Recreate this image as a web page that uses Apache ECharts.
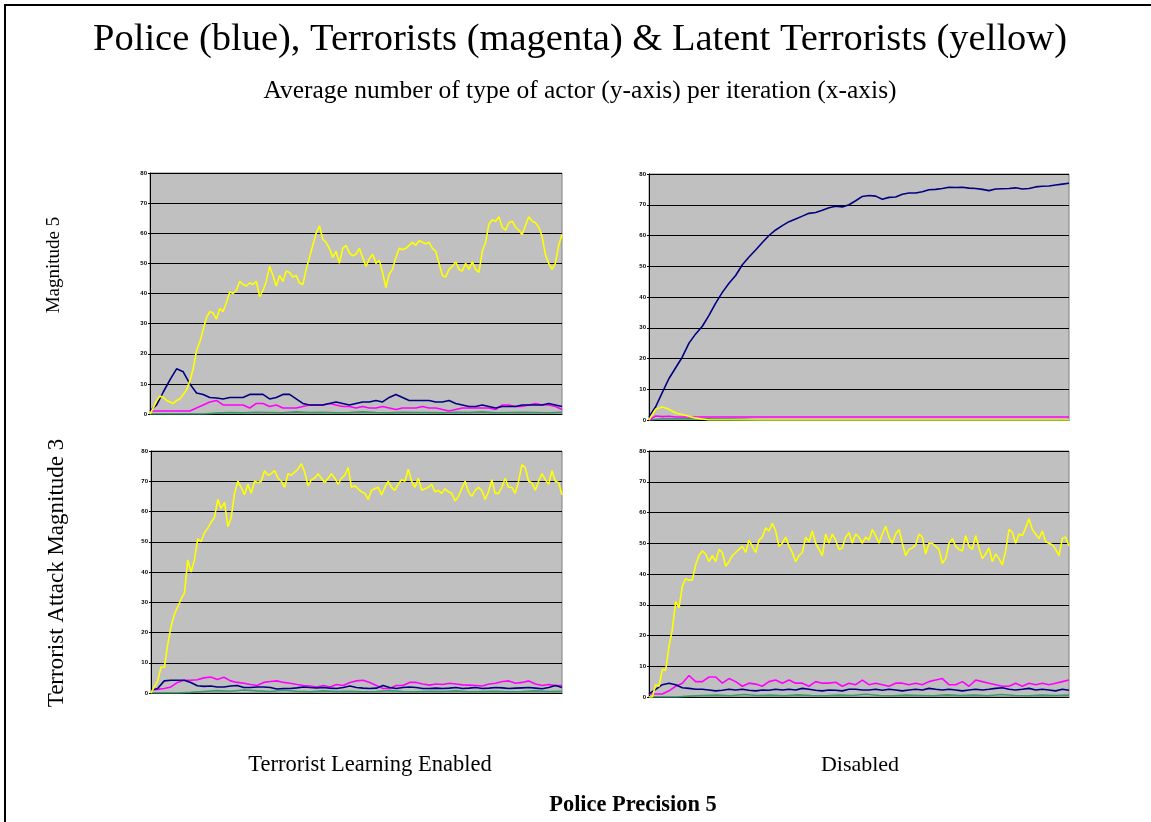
<!DOCTYPE html>
<html>
<head>
<meta charset="utf-8">
<script src="https://cdn.jsdelivr.net/npm/echarts@6/dist/echarts.min.js"></script>
<style>
  html, body { margin: 0; padding: 0; background: #ffffff; }
  #chart { width: 1151px; height: 822px; }
</style>
</head>
<body>
<div id="chart"></div>
<script>
// Average number of each actor type per iteration, four simulation settings.
// Each series is sampled evenly over the run (iteration 0..1000).

// Y axis tick labels shared by all panels
const yTicks = [0, 10, 20, 30, 40, 50, 60, 70, 80];

// Terrorist learning enabled, magnitude 5
const policeLearnMag5 = [1, 3, 7.3, 11.3, 15, 14, 10, 7, 6.5, 5.5, 5.3, 5, 5.5, 5.5, 5.5, 6.5, 6.5, 6.5, 5, 5.5, 6.5, 6.5, 5, 3.5, 3, 3, 3, 3.5, 4, 3.5, 3, 3.5, 4, 4, 4.5, 4, 5.5, 6.5, 5.5, 4.5, 4.5, 4.5, 4.5, 4, 4, 4.5, 3.5, 3, 2.5, 2.5, 3, 2.5, 2, 2.5, 2.5, 2.5, 3, 3, 3, 3, 3.5, 3, 2.5];
const terrorLearnMag5 = [1, 1, 1, 1, 1, 1, 1, 2, 3, 4, 4.5, 3, 3, 3, 3, 2, 3.5, 3.5, 2.5, 3, 2, 2, 2, 2.5, 3, 3, 3, 3.5, 3, 2.5, 2.5, 2, 2.5, 2, 2, 2.5, 2, 1.5, 2, 2, 2, 2.5, 2, 2, 1.5, 1, 1.5, 2, 2, 2, 2, 2, 1.5, 3, 3, 2.5, 2.5, 3, 3.5, 3, 3, 2.5, 1.5];
const latentLearnMag5 = [0, 2, 4.5, 6, 5.5, 4.5, 4, 3.5, 4.5, 5, 6.5, 8, 11, 15, 21, 24, 28, 32, 34, 33.5, 31.5, 35, 34, 37, 40.5, 40, 41, 44, 43, 42.5, 43.5, 43, 44, 39, 41, 44, 49, 46, 42.5, 46, 44, 47.5, 47, 45.5, 46, 43.5, 43, 48, 52, 56, 60, 62.5, 58, 57, 55, 52, 54, 50, 55, 56, 53.5, 52.5, 53, 55, 52, 49, 51.5, 53, 50, 51, 47, 42, 46.5, 48, 52, 55, 54.5, 55, 56, 57, 56, 57.5, 57, 56.5, 57, 55, 54, 50, 46, 45.5, 48, 49, 50.5, 48, 47.5, 50, 48, 50.5, 48, 47, 54, 57, 63, 64.5, 64, 65.5, 62, 61, 63.5, 64, 62, 61, 59.5, 62.5, 65.5, 64, 63.5, 62, 59, 53, 50, 48, 50, 56, 59.5];
const otherLearnMag5 = [0, 0, 0, 0, 0, 0.3, 0.5, 0.4, 0.6, 0.5, 0.4, 0.7, 0.5, 0.6, 0.4, 0.5, 0.7, 0.5, 0.4, 0.6, 0.5, 0.5, 0.4, 0.6, 0.5, 0.7, 0.4, 0.5, 0.6, 0.5, 0.4, 0.6];

// Terrorist learning disabled, magnitude 5
const policeNoLearnMag5 = [1, 4.3, 9, 13.5, 17, 20.5, 25, 28, 30.5, 34, 38, 41.5, 44.5, 47, 50.5, 53, 55.3, 57.7, 60, 61.8, 63.2, 64.5, 65.4, 66.3, 67.2, 67.5, 68.2, 69, 69.5, 69.3, 70, 71.3, 72.7, 73, 72.8, 71.8, 72.4, 72.5, 73.4, 73.8, 73.8, 74.2, 74.9, 75, 75.3, 75.7, 75.6, 75.7, 75.4, 75.3, 75, 74.6, 75.1, 75.2, 75.3, 75.5, 75.1, 75.3, 75.8, 76, 76.1, 76.4, 76.7, 77];
const terrorNoLearnMag5 = [0, 1.3, 1.1, 1.2, 1, 1, 1, 1, 1, 1, 1, 1, 1, 1, 1, 1, 1, 1, 1, 1, 1, 1, 1, 1, 1, 1, 1, 1, 1, 1, 1, 1, 1, 1, 1, 1, 1, 1, 1, 1, 1, 1, 1, 1, 1, 1, 1, 1, 1, 1, 1, 1, 1, 1, 1, 1, 1, 1, 1, 1, 1, 1, 1, 1];
const latentNoLearnMag5 = [0, 3.5, 4.2, 3.5, 2.3, 1.8, 1.2, 0.6, 0.3, 0, 0, 0, 0, 0, 0, 0, 0, 0, 0, 0, 0, 0, 0, 0, 0, 0, 0, 0, 0, 0, 0, 0, 0, 0, 0, 0, 0, 0, 0, 0, 0, 0, 0, 0, 0, 0, 0, 0, 0, 0, 0, 0, 0, 0, 0, 0, 0, 0, 0, 0, 0, 0, 0, 0];
const otherNoLearnMag5 = [0, 0.4, 0.4, 0.4, 0.4, 0.3, 0.3, 0.2, 0, 0, 0, 0, 0, 0, 0, 0, 0, 0, 0, 0, 0, 0, 0, 0, 0, 0, 0, 0, 0, 0, 0, 0];

// Terrorist learning enabled, magnitude 3
const policeLearnMag3 = [1, 1.5, 4, 4.2, 4.2, 4.2, 3.5, 2.4, 2.2, 2.3, 2, 2, 2.3, 2.5, 1.8, 1.8, 2, 2, 1.8, 1.3, 1.5, 1.5, 1.7, 2, 1.8, 1.7, 1.8, 1.6, 1.5, 1.8, 2.3, 1.8, 1.6, 1.5, 1.6, 2.5, 1.8, 1.5, 1.8, 2, 1.8, 1.5, 1.5, 1.6, 1.5, 1.6, 1.8, 1.5, 1.6, 1.8, 1.5, 1.6, 1.8, 1.7, 1.5, 1.6, 1.7, 1.8, 1.6, 1.4, 1.8, 2.5, 1.8];
const terrorLearnMag3 = [1, 1.2, 1.5, 2, 3.5, 4.2, 4.2, 4.4, 5, 5.3, 4.5, 5.2, 4, 3.5, 3.2, 2.8, 2.5, 3.5, 3.8, 4, 3.5, 3.2, 2.8, 2.5, 2.3, 2, 2.5, 2, 2.8, 2.5, 3.5, 4, 4.2, 3.5, 2.5, 1.5, 1.5, 2.5, 2.5, 3.5, 3.5, 3, 2.6, 3, 2.8, 3.2, 3, 2.7, 2.6, 2.5, 2.3, 3, 3.2, 3.8, 4, 3.2, 3.5, 4, 3, 2.5, 2.8, 2.5, 2.5];
const latentLearnMag3 = [0, 2, 4, 8.5, 8.5, 16, 22, 26, 28.5, 31, 33, 44, 40, 44, 51, 50, 53, 54.5, 56.5, 58, 64, 61, 63, 55, 58, 66, 70, 68, 65.5, 69, 66, 70, 69.5, 70, 73.5, 72, 72.5, 73.5, 71, 70, 68, 72.5, 72, 73, 74, 75.8, 73, 68.5, 70.5, 71, 72.5, 71, 69.5, 71, 72.5, 71, 69, 71, 72, 74.5, 68, 68.5, 67.5, 66.5, 66, 64, 67, 67.5, 68, 65.5, 68, 70, 68, 67, 69, 70.5, 70, 74, 70, 68, 71, 67, 67.5, 68, 69, 66.5, 67, 66, 67.5, 66.5, 66, 63.5, 65, 67.5, 70, 66.5, 65, 67, 68, 67, 64, 66.5, 70.5, 66, 66, 68, 71, 68, 68, 66, 70, 75.5, 74.5, 70, 69.5, 67, 70, 72.5, 70.5, 69, 73.5, 70, 69.5, 65.5];
const otherLearnMag3 = [0, 0, 0, 0.2, 0.5, 0.8, 0.6, 1, 0.7, 0.5, 0.9, 0.6, 0.4, 0.7, 0.5, 0.6, 0.4, 0.5, 0.8, 0.5, 0.4, 0.6, 0.5, 0.7, 0.4, 0.5, 0.6, 0.4, 0.5, 0.7, 0.5, 0.6];

// Terrorist learning disabled, magnitude 3
const policeNoLearnMag3 = [1, 2.5, 4, 4.5, 4, 3, 2.8, 2.5, 2.5, 2.3, 2, 2.2, 2.5, 2.3, 2.5, 2.2, 2, 2.3, 2.2, 2.5, 2.3, 2.5, 2.3, 2.8, 2.5, 2.2, 2, 2.3, 2.2, 2, 2.5, 2.5, 2.3, 2.3, 2.5, 2.2, 2.5, 2.3, 2, 2.3, 2.5, 2.3, 2.8, 2.5, 2.3, 2.5, 2.3, 2, 2.3, 2.5, 2.3, 2.5, 2.8, 3, 2.5, 2.3, 2.5, 2.8, 2.3, 2.5, 2.3, 2, 2.5, 2.2];
const terrorNoLearnMag3 = [1, 1, 1, 2, 3.5, 4.5, 7, 5, 5, 6.5, 6.5, 4.5, 6, 5, 3.5, 4.5, 4.2, 3.5, 5, 5.5, 4.5, 5.5, 4.5, 4.5, 3.5, 5, 4.5, 4.5, 4.8, 3.5, 4.5, 4, 5.5, 4, 4.5, 4, 3.5, 4.5, 4.5, 4, 4.5, 4, 5, 5.5, 6, 4, 4, 5, 3.5, 5.5, 5, 4.5, 4, 3.5, 3.5, 4.5, 3.5, 4.5, 4, 4.5, 4, 4.5, 5, 5.5];
const latentNoLearnMag3 = [0, 0, 4, 3.5, 9, 8.7, 16.5, 22, 31, 29, 36, 38.5, 38, 38, 43, 46, 47.5, 46.5, 44, 46, 44, 48, 47, 42.5, 44, 46, 47, 48, 49, 47, 51, 49, 47, 51, 52, 55, 54, 56.5, 54, 49, 50, 52, 49, 47, 44, 46, 47, 52, 50.5, 54, 50, 48, 46, 53, 50, 53, 51, 48, 48.5, 52, 53.5, 50, 53, 52, 50, 52, 51, 54.5, 52.5, 50, 53, 55.5, 52, 50, 53, 54.5, 50, 46, 48, 48.5, 49.5, 53, 52, 46.5, 50, 50, 49, 48, 43.5, 45, 50, 51.5, 49, 48, 47.5, 52.5, 49, 48, 52.5, 48.5, 45, 46.5, 48.5, 44, 46.5, 45, 43, 47.5, 54.5, 53.5, 50, 53, 52.5, 55, 58, 54.5, 53, 51.5, 54, 50.5, 50, 49.5, 48, 46, 51.5, 52, 49];
const otherNoLearnMag3 = [0, 0, 0, 0.3, 0.5, 0.6, 0.4, 0.8, 0.5, 0.6, 0.4, 0.7, 0.5, 0.4, 0.6, 0.5, 0.9, 0.5, 0.4, 0.6, 0.5, 0.4, 0.7, 0.5, 0.6, 0.4, 0.8, 0.5, 0.4, 0.6, 0.5, 0.6];

const COLORS = {
  police: '#000080',
  terror: '#ff00ff',
  latent: '#ffff00',
  other: '#3a9a6a'
};

// Spread samples evenly over the run length
const RUN_LENGTH = 1000;
function overRun(vals) {
  return vals.map((v, i) => [i * RUN_LENGTH / (vals.length - 1), v]);
}

const panels = [
  { rect: { left: 150, top: 173, width: 412, height: 241 },
    other: otherLearnMag5, terror: terrorLearnMag5, police: policeLearnMag5, latent: latentLearnMag5 },
  { rect: { left: 649, top: 174, width: 420, height: 246 },
    other: otherNoLearnMag5, terror: terrorNoLearnMag5, police: policeNoLearnMag5, latent: latentNoLearnMag5 },
  { rect: { left: 151, top: 451, width: 411, height: 242 },
    other: otherLearnMag3, terror: terrorLearnMag3, police: policeLearnMag3, latent: latentLearnMag3 },
  { rect: { left: 649, top: 451, width: 420, height: 246 },
    other: otherNoLearnMag3, terror: terrorNoLearnMag3, police: policeNoLearnMag3, latent: latentNoLearnMag3 }
];

const grid = [], xAxis = [], yAxis = [], series = [];
panels.forEach((p, k) => {
  grid.push(Object.assign({
    show: true,
    backgroundColor: '#c0c0c0',
    borderColor: '#808080',
    borderWidth: 1,
    containLabel: false
  }, p.rect));
  xAxis.push({
    type: 'value', gridIndex: k, min: 0, max: RUN_LENGTH,
    axisLine: { show: true, onZero: false, lineStyle: { color: '#000000', width: 1 } },
    axisTick: { show: false }, axisLabel: { show: false }, splitLine: { show: false }
  });
  yAxis.push({
    type: 'value', gridIndex: k,
    min: yTicks[0], max: yTicks[yTicks.length - 1], interval: yTicks[1] - yTicks[0],
    axisLine: { show: true, lineStyle: { color: '#000000', width: 1 } },
    axisTick: { show: true, length: 2, lineStyle: { color: '#000000' } },
    axisLabel: { fontFamily: 'Liberation Sans', fontSize: 6, fontWeight: 'bold', color: '#000000', margin: 3 },
    splitLine: { show: true, lineStyle: { color: '#000000', width: 1 } }
  });
  const line = (name, data, color, z) => ({
    type: 'line', name, xAxisIndex: k, yAxisIndex: k,
    data: overRun(data), showSymbol: false, symbol: 'none', animation: false,
    lineStyle: { color, width: 1.6 }, z
  });
  series.push(line('Other', p.other, COLORS.other, 2));
  series.push(line('Terrorists', p.terror, COLORS.terror, 3));
  series.push(line('Police', p.police, COLORS.police, 4));
  series.push(line('Latent Terrorists', p.latent, COLORS.latent, 5));
});

const serif = 'Liberation Serif, Times New Roman, serif';
const text = (x, y, str, size, extra) => ({
  type: 'text', x, y, rotation: (extra && extra.rotation) || 0,
  style: {
    text: str, font: ((extra && extra.bold) ? 'bold ' : '') + size + 'px ' + serif,
    fill: '#000000', textAlign: 'center', textVerticalAlign: 'middle'
  }
});

const graphic = [
  { type: 'polyline', shape: { points: [[5, 822], [5, 5], [1151, 5]] },
    style: { stroke: '#000000', lineWidth: 2, fill: null } },
  text(580, 40, 'Police (blue), Terrorists (magenta) & Latent Terrorists (yellow)', 38.5),
  text(580, 91, 'Average number of type of actor (y-axis) per iteration (x-axis)', 25.5),
  text(54, 265, 'Magnitude 5', 19, { rotation: Math.PI / 2 }),
  text(57, 573, 'Terrorist Attack Magnitude 3', 23, { rotation: Math.PI / 2 }),
  text(370, 765, 'Terrorist Learning Enabled', 22.5),
  text(860, 765, 'Disabled', 22),
  text(633, 805, 'Police Precision 5', 22.4, { bold: true })
];

const chart = echarts.init(document.getElementById('chart'), null, { renderer: 'canvas' });
chart.setOption({
  backgroundColor: '#ffffff',
  animation: false,
  grid, xAxis, yAxis, series, graphic
});
</script>
</body>
</html>
